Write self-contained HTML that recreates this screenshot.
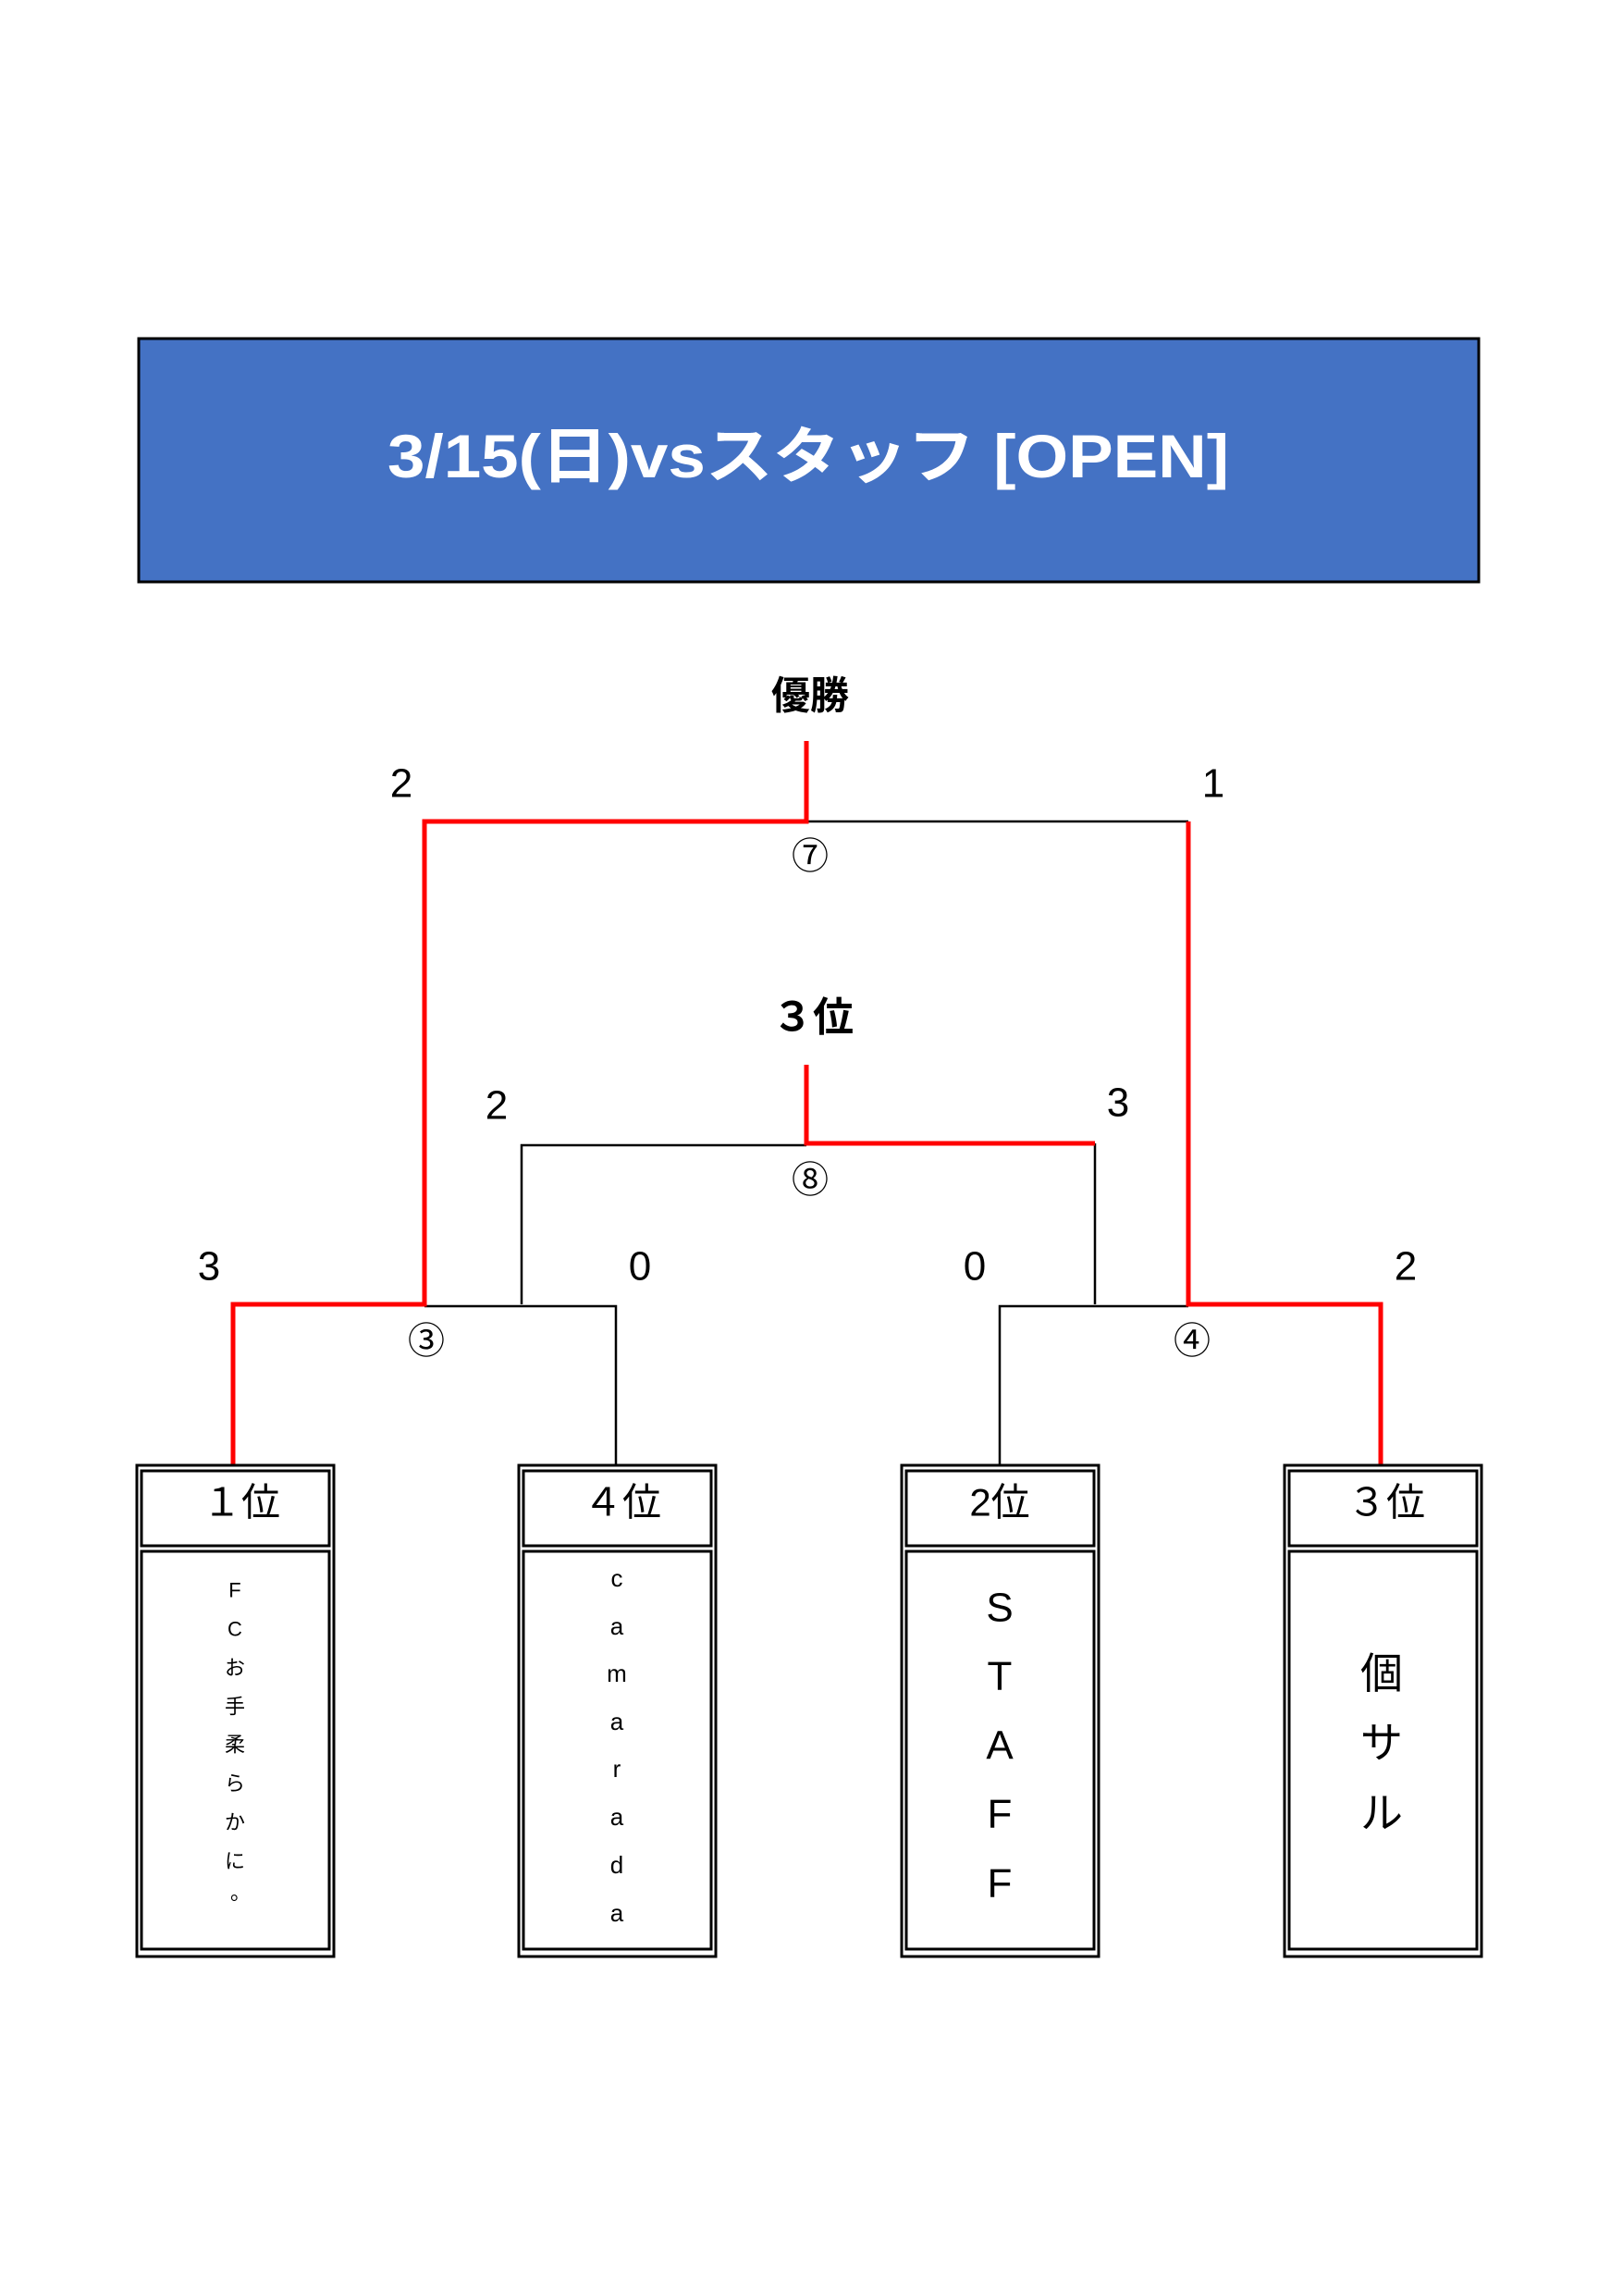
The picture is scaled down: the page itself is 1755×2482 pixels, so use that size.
<!DOCTYPE html>
<html><head><meta charset="utf-8"><style>
html,body{margin:0;padding:0;background:#fff;}
svg{display:block;}
text{font-family:"Liberation Sans","Noto Sans CJK JP",sans-serif;}
</style></head><body>
<svg width="1755" height="2482" viewBox="0 0 1755 2482" xmlns="http://www.w3.org/2000/svg">
<rect x="150" y="366" width="1449" height="263" fill="#4472c4" stroke="#000" stroke-width="3"/>
<text x="874" y="493" fill="#fff" font-size="66" font-weight="bold" text-anchor="middle" dominant-baseline="central" textLength="910" lengthAdjust="spacingAndGlyphs">3/15(日)vsスタッフ [OPEN]</text>

<text x="876" y="752" font-size="42" font-weight="bold" text-anchor="middle" dominant-baseline="central">優勝</text>
<text x="879" y="1100" font-size="44" font-weight="bold" text-anchor="middle" dominant-baseline="central">３位</text>

<g stroke="#000" stroke-width="2.5" fill="none">
<path d="M872 888 H1285"/>
<path d="M564 1410 V1238 H872"/>
<path d="M1184 1236 V1410"/>
<path d="M459 1412 H666 V1583"/>
<path d="M1081 1583 V1412 H1285"/>
</g>
<g stroke="#f00" stroke-width="5" fill="none">
<path d="M872 801 V888 H459 V1410 H252 V1583"/>
<path d="M1285 888 V1410 H1493 V1583"/>
<path d="M872 1151 V1236 H1184"/>
</g>

<g font-size="44" text-anchor="middle" dominant-baseline="central">
<text x="434" y="847">2</text>
<text x="1312" y="847">1</text>
<text x="537" y="1195">2</text>
<text x="1209" y="1192">3</text>
<text x="226" y="1369">3</text>
<text x="692" y="1369">0</text>
<text x="1054" y="1369">0</text>
<text x="1520" y="1369">2</text>
</g>
<g font-size="40" text-anchor="middle" dominant-baseline="central">
<text x="876" y="926">⑦</text>
<text x="876" y="1276">⑧</text>
<text x="461" y="1450">③</text>
<text x="1289" y="1450">④</text>
</g>

<g fill="none" stroke="#000">
<rect x="148" y="1584" width="213" height="531" stroke-width="3"/>
<rect x="153" y="1590" width="203" height="81" stroke-width="3"/>
<rect x="153" y="1677" width="203" height="430" stroke-width="3"/>
<rect x="561" y="1584" width="213" height="531" stroke-width="3"/>
<rect x="566" y="1590" width="203" height="81" stroke-width="3"/>
<rect x="566" y="1677" width="203" height="430" stroke-width="3"/>
<rect x="975" y="1584" width="213" height="531" stroke-width="3"/>
<rect x="980" y="1590" width="203" height="81" stroke-width="3"/>
<rect x="980" y="1677" width="203" height="430" stroke-width="3"/>
<rect x="1389" y="1584" width="213" height="531" stroke-width="3"/>
<rect x="1394" y="1590" width="203" height="81" stroke-width="3"/>
<rect x="1394" y="1677" width="203" height="430" stroke-width="3"/>
</g>

<g font-size="42" text-anchor="middle" dominant-baseline="central">
<text x="261" y="1624">１位</text>
<text x="673" y="1624">４位</text>
<text x="1081" y="1624">2位</text>
<text x="1499" y="1624">３位</text>
</g>

<g font-size="22" text-anchor="middle" dominant-baseline="central">
<text x="254" y="1719">F</text>
<text x="254" y="1761">C</text>
<text x="254" y="1803">お</text>
<text x="254" y="1845">手</text>
<text x="254" y="1886">柔</text>
<text x="254" y="1928">ら</text>
<text x="254" y="1970">か</text>
<text x="254" y="2012">に</text>
<text x="260" y="2046">。</text>
</g>
<g font-size="26" text-anchor="middle" dominant-baseline="central">
<text x="667" y="1706">c</text>
<text x="667" y="1758">a</text>
<text x="667" y="1809">m</text>
<text x="667" y="1861">a</text>
<text x="667" y="1912">r</text>
<text x="667" y="1964">a</text>
<text x="667" y="2016">d</text>
<text x="667" y="2068">a</text>
</g>
<g font-size="44" text-anchor="middle" dominant-baseline="central">
<text x="1081" y="1738">S</text>
<text x="1081" y="1812">T</text>
<text x="1081" y="1887">A</text>
<text x="1081" y="1961">F</text>
<text x="1081" y="2036">F</text>
</g>
<g font-size="46" text-anchor="middle" dominant-baseline="central">
<text x="1494" y="1809">個</text>
<text x="1494" y="1884">サ</text>
<text x="1494" y="1960">ル</text>
</g>
</svg>
</body></html>
